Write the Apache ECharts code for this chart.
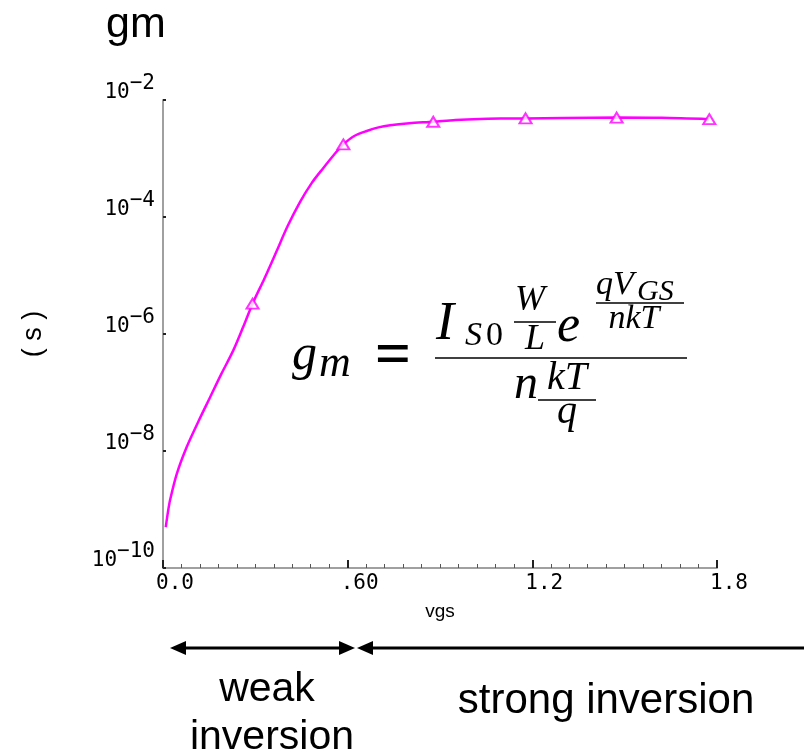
<!DOCTYPE html>
<html>
<head>
<meta charset="utf-8">
<script src="https://cdn.jsdelivr.net/npm/echarts@6/dist/echarts.min.js"></script>
<style>
html,body{margin:0;padding:0;background:#ffffff;}
#c{width:804px;height:755px;}
</style>
</head>
<body>
<div id="c"></div>
<script>
// ---- data ----
const vgs = [0.009, 0.016, 0.023, 0.045, 0.077, 0.115, 0.153, 0.190, 0.228, 0.260, 0.291, 0.330, 0.369, 0.405, 0.445, 0.483, 0.521, 0.555, 0.586, 0.620, 0.662, 0.700, 0.738, 0.800, 0.878, 0.950, 1.03, 1.10, 1.178, 1.30, 1.474, 1.62, 1.775];
const gm  = [5.0e-10, 9.0e-10, 1.45e-9, 4.1e-9, 1.17e-8, 3.2e-8, 8.3e-8, 2.1e-7, 5.2e-7, 1.3e-6, 3.3e-6, 9.0e-6, 2.6e-5, 7.0e-5, 1.8e-4, 3.8e-4, 6.9e-4, 1.15e-3, 1.74e-3, 2.4e-3, 2.95e-3, 3.4e-3, 3.7e-3, 4.0e-3, 4.25e-3, 4.55e-3, 4.75e-3, 4.82e-3, 4.85e-3, 4.92e-3, 5.0e-3, 4.95e-3, 4.7e-3];
const markerVgs = [0.291, 0.586, 0.878, 1.178, 1.474, 1.775];
const markerGm  = [3.3e-6, 1.74e-3, 4.25e-3, 4.85e-3, 5.0e-3, 4.7e-3];
const xTickValues = [0, 0.6, 1.2, 1.8];
const xTickLabels = ['0.0', '.60', '1.2', '1.8'];
const yTickExponents = [-10, -8, -6, -4, -2];
const chartTitle = 'gm';
const xName = 'vgs';
const yName = '( s )';

const MONO = '"DejaVu Sans Mono", "Liberation Mono", monospace';
const SANS = '"Liberation Sans", Arial, sans-serif';
const SERIF = '"Liberation Serif", "DejaVu Serif", serif';

const chart = echarts.init(document.getElementById('c'), null, {renderer: 'canvas'});

function T(text, x, baseline, size, opts) {
  opts = opts || {};
  return {
    type: 'text', x: x, y: baseline - 0.34 * size, z: 100,
    style: {
      text: text,
      fontFamily: opts.family || SERIF,
      fontSize: size,
      fontWeight: opts.weight || 'normal',
      fontStyle: opts.italic === false ? 'normal' : 'italic',
      fill: '#000',
      align: opts.align || 'left',
      verticalAlign: 'middle'
    }
  };
}
function bar(x1, x2, y, w) {
  return {type: 'line', z: 100, shape: {x1: x1, y1: y, x2: x2, y2: y}, style: {stroke: '#000', lineWidth: w || 1.6}};
}
function head(tipX, y, dir) {
  const L = 16, H = 7;
  return {type: 'polygon', z: 100, shape: {points: [[tipX, y], [tipX + dir * L, y - H], [tipX + dir * L, y + H]]}, style: {fill: '#000'}};
}

const formula = [
  {type: 'rect', z: 90, shape: {x: 292, y: 263, width: 408, height: 180}, style: {fill: '#ffffff'}},
  T('g', 292, 373, 50),
  T('m', 319, 379, 44),
  T('=', 393, 380, 64, {italic: false, align: 'center', weight: 'bold'}),
  bar(435, 687, 358),
  T('I', 436, 343, 54),
  T('S', 465, 348, 34),
  T('0', 486, 348, 34, {italic: false}),
  T('W', 515, 313, 36),
  bar(514, 556, 322),
  T('L', 525, 352, 36),
  T('e', 557, 345, 52),
  T('q', 596, 297, 34),
  T('V', 613, 297, 34),
  T('GS', 637, 302, 30),
  bar(596, 684, 303, 1.3),
  T('nkT', 634, 331, 34, {align: 'center'}),
  T('n', 514, 402, 48),
  T('kT', 567, 392, 40, {align: 'center'}),
  bar(538, 596, 400),
  T('q', 567, 426, 40, {align: 'center'})
];

const arrows = [
  bar(178, 348, 648, 3),
  head(170, 648, 1),
  head(355, 648, -1),
  head(357, 648, 1),
  bar(366, 804, 648, 3)
];

const texts = [
  T(chartTitle, 106, 40, 43, {family: SANS, italic: false}),
  T('weak', 267, 704, 41, {family: SANS, italic: false, align: 'center'}),
  T('inversion', 272, 752, 41, {family: SANS, italic: false, align: 'center'}),
  T('strong inversion', 606, 716, 42, {family: SANS, italic: false, align: 'center'})
];

const option = {
  backgroundColor: '#ffffff',
  animation: false,
  grid: {left: 163, right: 87, top: 100, bottom: 187, containLabel: false},
  xAxis: {
    type: 'value', min: 0, max: 1.8, interval: 0.6,
    name: xName, nameLocation: 'middle', nameGap: 34,
    nameTextStyle: {fontFamily: SANS, fontSize: 19, color: '#000'},
    axisLine: {show: true, onZero: false, lineStyle: {color: '#a0a0a0', width: 2}},
    axisTick: {show: true, inside: true, length: 8, lineStyle: {color: '#222', width: 2}},
    minorTick: {show: true, splitNumber: 10, length: 4, lineStyle: {color: '#555', width: 1}},
    splitLine: {show: false}, minorSplitLine: {show: false},
    axisLabel: {
      margin: 6, align: 'left', padding: [0, 0, 0, -7],
      fontFamily: MONO, fontSize: 21, lineHeight: 20, color: '#000',
      formatter: function (v) { const i = xTickValues.findIndex(t => Math.abs(t - v) < 1e-6); return i >= 0 ? xTickLabels[i] : ''; }
    }
  },
  yAxis: {
    type: 'log', logBase: 10, min: 1e-10, max: 1e-2, interval: 2,
    name: yName, nameLocation: 'middle', nameGap: 116, nameRotate: 90,
    nameTextStyle: {fontFamily: SANS, fontSize: 27, color: '#000'},
    axisLine: {show: true, lineStyle: {color: '#a0a0a0', width: 2}},
    axisTick: {show: true, inside: true, length: 3, lineStyle: {color: '#222', width: 2}},
    splitLine: {show: false},
    axisLabel: {
      margin: 8, verticalAlign: 'bottom', align: 'right', lineHeight: 30, padding: [0, 0, -3, 0],
      formatter: function (v) {
        const e = Math.round(Math.log10(v));
        if (yTickExponents.indexOf(e) < 0) return '';
        return '{b|10}{s|\u2212' + Math.abs(e) + '}';
      },
      rich: {
        b: {fontFamily: MONO, fontSize: 21, color: '#000', verticalAlign: 'bottom'},
        s: {fontFamily: MONO, fontSize: 21, color: '#000', verticalAlign: 'top'}
      }
    }
  },
  series: [
    {
      type: 'line', smooth: 0.3, showSymbol: false, z: 3,
      lineStyle: {color: '#ff00ff', width: 2.5},
      data: vgs.map((v, i) => [v, gm[i]])
    },
    {
      type: 'scatter', symbol: 'emptyTriangle', symbolSize: [12, 10], z: 4,
      itemStyle: {color: '#ff00ff', borderColor: '#ff00ff', borderWidth: 2.2},
      data: markerVgs.map((v, i) => [v, markerGm[i]])
    }
  ],
  graphic: formula.concat(arrows, texts)
};
chart.setOption(option);
</script>
</body>
</html>
